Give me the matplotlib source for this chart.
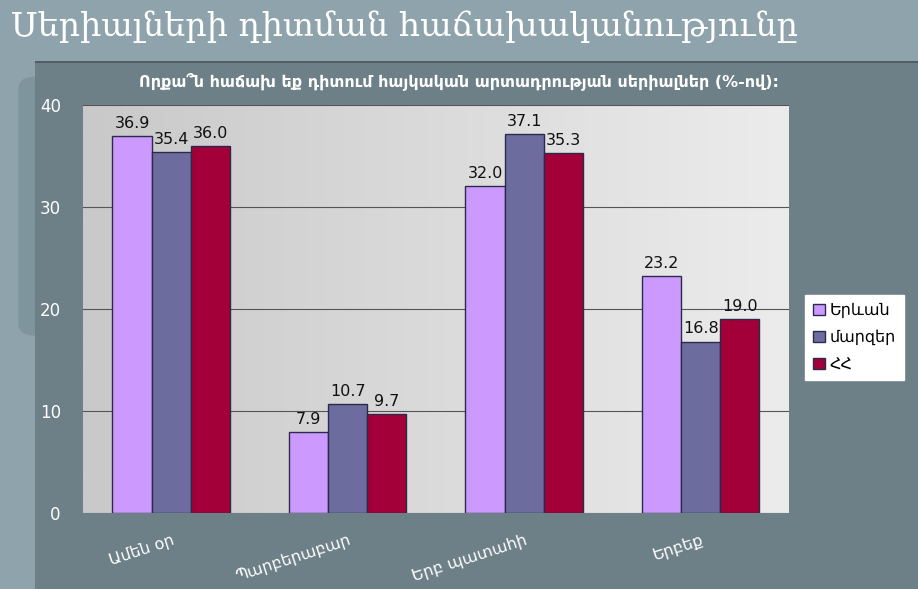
import numpy as np
import matplotlib.pyplot as plt
from matplotlib.colors import LinearSegmentedColormap
from matplotlib.patches import Rectangle, FancyBboxPatch

plt.rcParams['font.family'] = ['DejaVu Sans']

# Data
categories = ['Ամեն օր', 'Պարբերաբար', 'Երբ պատահի', 'Երբեք']
series_names = ['Երևան', 'մարզեր', 'ՀՀ']
yerevan = [36.9, 7.9, 32.0, 23.2]
marzer = [35.4, 10.7, 37.1, 16.8]
hh = [36.0, 9.7, 35.3, 19.0]
y_ticks = [0, 10, 20, 30, 40]

title = 'Սերիալների դիտման հաճախականությունը'
subtitle = 'Որքա՞ն հաճախ եք դիտում հայկական արտադրության սերիալներ (%-ով):'

COLORS = ['#cc99ff', '#6c6c9e', '#a3003a']

fig = plt.figure(figsize=(9.18, 5.89), dpi=100)
fig.patch.set_facecolor('#8ea3ab')

# slide background: subtle rounded panel on the left + dark chart panel
fig.patches.append(FancyBboxPatch((0.02, 0.43), 0.12, 0.44, boxstyle='round,pad=0,rounding_size=0.02',
                                  transform=fig.transFigure, facecolor='#7f959d', edgecolor='none', zorder=-3))
fig.patches.append(Rectangle((0.038, 0.0), 0.962, 0.895, transform=fig.transFigure,
                             facecolor='#6d7f87', edgecolor='none', zorder=-2))
fig.patches.append(Rectangle((0.038, 0.893), 0.962, 0.004, transform=fig.transFigure,
                             facecolor='#4f5f66', edgecolor='none', zorder=-1))

fig.text(0.012, 0.955, title, color='white', fontsize=24, ha='left', va='center',
         family=['DejaVu Serif', 'DejaVu Sans'])
fig.text(0.5, 0.862, subtitle, color='white', fontsize=11.5, fontweight='bold',
         ha='center', va='center')

ax = fig.add_axes([0.0904, 0.129, 0.769, 0.693])
ax.set_facecolor('#d8d8d8')
# light gradient in the plot background
grad = np.linspace(0, 1, 256).reshape(1, -1)
ax.imshow(grad, cmap=LinearSegmentedColormap.from_list('g', ['#c9c9c9', '#ececec']),
          extent=[0, 1, 0, 1], transform=ax.transAxes, aspect='auto', zorder=0)

x = np.arange(len(categories))
w = 0.222
for i, (vals, name) in enumerate(zip([yerevan, marzer, hh], series_names)):
    bars = ax.bar(x + (i - 1) * w, vals, w, color=COLORS[i], edgecolor='#2a2a4a',
                  linewidth=1, label=name, zorder=3)
    for b, v in zip(bars, vals):
        ax.text(b.get_x() + b.get_width() / 2, v + 0.5, f'{v:.1f}', ha='center', va='bottom',
                fontsize=11.5, color='#111111', zorder=4)

ax.set_xlim(-0.5, 3.5)
ax.set_ylim(0, 40)
ax.set_yticks(y_ticks)
ax.yaxis.grid(True, color='#555555', linewidth=0.8)
ax.set_axisbelow(True)
for s in ax.spines.values():
    s.set_visible(False)
ax.tick_params(axis='y', length=0, pad=16, labelcolor='white', labelsize=12)
ax.tick_params(axis='x', length=0, pad=14, labelcolor='white', labelsize=11.5)
ax.set_xticks(x)
ax.set_xticklabels(categories, rotation=18, ha='right', rotation_mode='anchor')
for lbl in ax.get_xticklabels():
    lbl.set_x(lbl.get_position()[0])
ax.set_xlim(-0.5, 3.5)

leg = ax.legend(loc='center left', bbox_to_anchor=(1.012, 0.43), frameon=True, fancybox=False,
                facecolor='white', edgecolor='white', fontsize=11.5, handlelength=0.7,
                handleheight=0.7, handletextpad=0.3, borderpad=0.5, labelspacing=0.75)
leg.get_frame().set_alpha(1)

plt.savefig('out.png', dpi=100, facecolor=fig.get_facecolor())
